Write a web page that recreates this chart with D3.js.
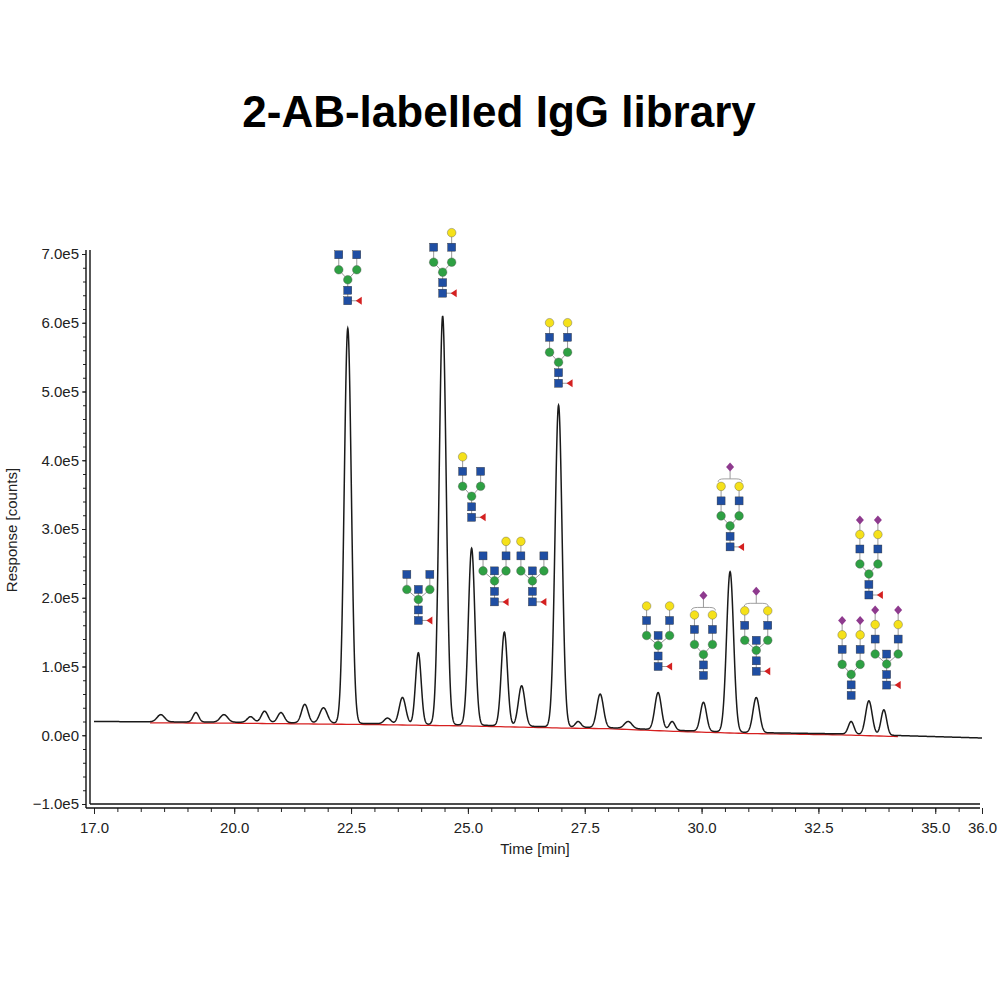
<!DOCTYPE html>
<html><head><meta charset="utf-8">
<script src="https://cdn.jsdelivr.net/npm/d3@7"></script>
<style>body{margin:0;background:#fff}text{font-family:"Liberation Sans",Arial,sans-serif}</style>
</head><body><svg id="c" width="1000" height="1000"></svg>
<script>
// Peaks: retention time (min), apex response (e5 counts, absolute), width sigma (min)
const peakTimes  = [18.43,19.18,19.78,20.35,20.65,21.0,21.51,21.91,22.43,23.28,23.60,23.94,24.46,25.08,25.78,26.15,26.94,27.36,27.83,28.43,29.07,29.37,30.04,30.61,31.17,33.20,33.58,33.90];
const peakHeights= [0.30,0.33,0.30,0.27,0.35,0.33,0.45,0.40,5.92,0.25,0.55,1.20,6.10,2.72,1.50,0.72,4.80,0.20,0.60,0.20,0.62,0.20,0.48,2.38,0.55,0.20,0.50,0.37];
const peakSigmas = [0.08,0.06,0.08,0.07,0.07,0.07,0.07,0.08,0.075,0.07,0.07,0.06,0.075,0.07,0.065,0.07,0.075,0.06,0.07,0.08,0.07,0.06,0.065,0.075,0.07,0.06,0.07,0.06];
// Baseline drift (e5)
const baseTimes  = [17,20,23,25,27,28,29.5,31,33,34.5,36];
const baseValues = [0.20,0.19,0.17,0.15,0.12,0.11,0.07,0.04,0.02,-0.01,-0.04];
// Axis ticks
const yTicks = [-1,0,1,2,3,4,5,6,7];
const xTickLabels = [17.0,20.0,22.5,25.0,27.5,30.0,32.5,35.0,36.0];
// Glycan annotations: time, anchor (e5, core GlcNAc), left arm, right arm, bisect, fucose, bracket sialic
const glyTimes   = [22.43,24.46,23.94,25.08,25.57,26.38,26.94,29.07,30.04,30.61,31.17,33.58,33.20,33.96];
const glyAnchors = [6.32,6.43,1.67,3.17,1.94,1.94,5.12,1.00,0.87,2.74,0.93,2.04,0.58,0.73];
const glyLeft    = ["N","N","N","NG","N","NG","NG","NG","NG","NG","NG","NGS","NGS","NGS"];
const glyRight   = ["N","NG","N","N","NG","N","NG","NG","NG","NG","NG","NGS","NGS","NGS"];
const glyBisect  = [0,0,1,0,1,1,0,1,0,0,1,0,0,1];
const glyFucose  = [1,1,1,1,1,1,1,1,0,1,1,1,0,1];
const glyBracket = [0,0,0,0,0,0,0,0,1,1,1,0,0,0];

const svg = d3.select("#c");
const x = d3.scaleLinear().domain([17,36]).range([94,982]);
const y = d3.scaleLinear().domain([-1,7]).range([804,254]);
const baseAt = d3.scaleLinear().domain(baseTimes).range(baseValues);

svg.append("text").attr("x",499).attr("y",127).attr("text-anchor","middle")
  .attr("font-size",44).attr("font-weight","bold").text("2-AB-labelled IgG library");

// trace
const pts=[];
for(let t=17;t<=36.0001;t+=0.005){
  let v=baseAt(t);
  peakTimes.forEach((p,i)=>{const h=peakHeights[i]-baseAt(p);v+=h*Math.exp(-0.5*((t-p)/peakSigmas[i])**2);});
  pts.push([t,v]);
}
const redPts = d3.range(18.2,34.3,0.1).map(t=>[t,baseAt(t)-0.015]);
svg.append("path").datum(redPts).attr("fill","none").attr("stroke","#d62020").attr("stroke-width",1.3)
  .attr("d",d3.line().x(d=>x(d[0])).y(d=>y(d[1])));
svg.append("path").datum(pts).attr("fill","none").attr("stroke","#1a1a1a").attr("stroke-width",1.5)
  .attr("d",d3.line().x(d=>x(d[0])).y(d=>y(d[1])));

// axes
const yAx = svg.append("g").attr("transform","translate(86,0)")
  .call(d3.axisLeft(y).tickValues(yTicks).tickFormat(d=>d===0?"0.0e0":d3.format(".1f")(d)+"e5").tickSize(4));
const yMinor = svg.append("g").attr("transform","translate(86,0)")
  .call(d3.axisLeft(y).tickValues(d3.range(-1,7.01,0.2)).tickFormat("").tickSize(3));
const xAx = svg.append("g").attr("transform","translate(0,808)")
  .call(d3.axisBottom(x).tickValues(xTickLabels).tickFormat(d3.format(".1f")).tickSize(6));
const xMinor = svg.append("g").attr("transform","translate(0,808)")
  .call(d3.axisBottom(x).tickValues(d3.range(17,36.01,0.5)).tickFormat("").tickSize(4));
[yAx,yMinor,xAx,xMinor].forEach(g=>{g.select(".domain").remove();g.selectAll("line").attr("stroke","#222");});
yAx.selectAll("text").attr("font-size",15).attr("fill","#222");
xAx.selectAll("text").attr("font-size",15).attr("fill","#222").attr("dy","1.05em");
[[86,250,86,808],[90,250,90,804],[86,808,980,808],[90,804,980,804]].forEach(l=>
  svg.append("line").attr("x1",l[0]).attr("y1",l[1]).attr("x2",l[2]).attr("y2",l[3]).attr("stroke","#111").attr("stroke-width",1.4));
svg.append("text").attr("x",535).attr("y",854).attr("text-anchor","middle").attr("font-size",15).attr("fill","#222").text("Time [min]");
svg.append("text").attr("transform","translate(17,530) rotate(-90)").attr("text-anchor","middle").attr("font-size",15).attr("fill","#222").text("Response [counts]");

// glycans
const col={N:"#1f4ea3",M:"#2ea043",G:"#f5e11a",S:"#8e3a8e",F:"#d42020"};
function sq(g,cx,cy){g.append("rect").attr("x",cx-4).attr("y",cy-4).attr("width",8).attr("height",8).attr("fill",col.N).attr("stroke","#333").attr("stroke-width",0.4);}
function ci(g,cx,cy,c){g.append("circle").attr("cx",cx).attr("cy",cy).attr("r",4.3).attr("fill",c).attr("stroke","#555").attr("stroke-width",0.4);}
function di(g,cx,cy){g.append("path").attr("d",`M${cx},${cy-4.5}L${cx+4},${cy}L${cx},${cy+4.5}L${cx-4},${cy}Z`).attr("fill",col.S);}
function ln(g,a,b,c,d){g.append("line").attr("x1",a).attr("y1",b).attr("x2",c).attr("y2",d).attr("stroke","#999").attr("stroke-width",1);}
glyTimes.forEach((t,i)=>{
  const g=svg.append("g"); const cx=x(t), cy=y(glyAnchors[i]);
  const sp=glyBisect[i]?11.5:9;
  ln(g,cx,cy,cx,cy-21);
  if(glyFucose[i]) ln(g,cx,cy,cx+12,cy);
  [-1,1].forEach(s=>{const arm=s<0?glyLeft[i]:glyRight[i];ln(g,cx,cy-21,cx+sp*s,cy-31);ln(g,cx+sp*s,cy-31,cx+sp*s,cy-31-15*arm.length);});
  if(glyBisect[i]) ln(g,cx,cy-21,cx,cy-31);
  sq(g,cx,cy); sq(g,cx,cy-10.5); ci(g,cx,cy-21,col.M);
  if(glyFucose[i]) g.append("path").attr("d",`M${cx+8},${cy}L${cx+14},${cy-4}L${cx+14},${cy+4}Z`).attr("fill",col.F);
  if(glyBisect[i]) sq(g,cx,cy-31);
  [-1,1].forEach(s=>{
    const arm=s<0?glyLeft[i]:glyRight[i]; const ax=cx+sp*s;
    ci(g,ax,cy-31,col.M);
    [...arm].forEach((r,k)=>{const yy=cy-46-14.5*k; if(r==="N")sq(g,ax,yy); else if(r==="G")ci(g,ax,yy,col.G); else di(g,ax,yy);});
  });
  if(glyBracket[i]){
    const by=cy-68;
    g.append("path").attr("d",`M${cx-12},${by+3}Q${cx-12},${by} ${cx-6},${by}L${cx+6},${by}Q${cx+12},${by} ${cx+12},${by+3}`).attr("fill","none").attr("stroke","#888").attr("stroke-width",0.8);
    ln(g,cx,by,cx,by-8); di(g,cx,by-12);
  }
});
</script></body></html>
